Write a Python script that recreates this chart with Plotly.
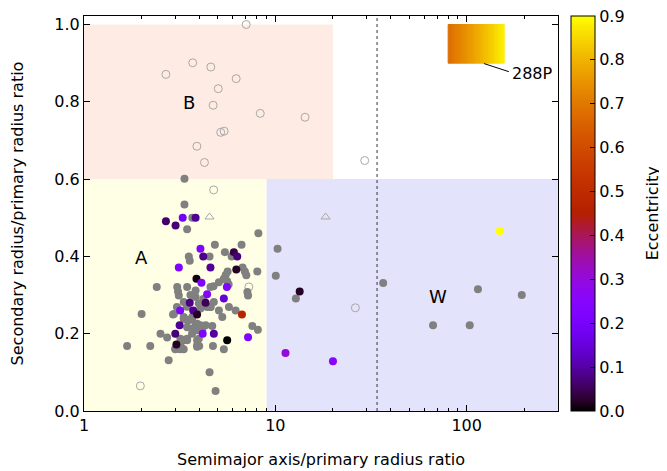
import numpy as np
import plotly.graph_objects as go

# ---------------- data ----------------
# filled grey: systems without eccentricity
grey_x = [3.35, 3.35, 3.46, 3.68, 8.15, 4.83, 6.66, 5.45, 3.53, 3.57, 4.53, 5.91,
          5.63, 5.5, 6.74, 6.93, 7.05, 8.05, 5.07, 5.38, 5.6, 5.7,
          2.40, 3.07, 3.10, 3.13, 3.46, 4.58, 4.75, 3.83, 7.14, 7.2,
          2.0, 1.68, 2.22, 2.51, 2.72, 2.77, 4.53, 4.87, 5.38, 4.72, 4.0,
          5.07, 5.72, 6.2, 5.28, 7.58, 8.1, 2.95, 3.06, 3.0, 3.19, 3.32,
          4.59, 3.32, 2.92,
          3.32, 3.53, 3.67, 3.9, 3.46, 3.67, 3.9, 3.67, 3.46, 3.32, 3.19, 3.9,
          3.13, 3.26, 3.0, 3.9, 4.06,
          3.83, 3.98, 4.15, 4.58, 4.77, 4.06, 4.4, 3.83, 4.06, 4.32, 4.68,
          3.98, 4.15, 3.9, 3.19, 3.32, 3.46, 3.68, 3.46, 3.6, 4.2, 3.45,
          10.27, 10.05, 12.8, 36.6, 66.7, 103.7, 114.5, 194.0]
grey_y = [0.601, 0.534, 0.470, 0.500, 0.460, 0.430, 0.430, 0.411, 0.400, 0.389, 0.400, 0.400,
          0.361, 0.352, 0.371, 0.361, 0.351, 0.361, 0.333, 0.342, 0.336, 0.327,
          0.321, 0.321, 0.309, 0.299, 0.321, 0.321, 0.323, 0.312, 0.308, 0.299,
          0.251, 0.168, 0.168, 0.200, 0.190, 0.131, 0.100, 0.052, 0.160, 0.168, 0.168,
          0.260, 0.269, 0.260, 0.243, 0.220, 0.210, 0.251, 0.269, 0.160, 0.160, 0.160,
          0.269, 0.282, 0.250,
          0.239, 0.235, 0.239, 0.226, 0.217, 0.213, 0.209, 0.200, 0.187, 0.183, 0.187, 0.183,
          0.161, 0.161, 0.161, 0.166, 0.213,
          0.295, 0.278, 0.278, 0.269, 0.282, 0.265, 0.269, 0.226, 0.222, 0.222, 0.220,
          0.187, 0.209, 0.170, 0.170, 0.243, 0.235, 0.243, 0.183, 0.300, 0.290, 0.270,
          0.420, 0.350, 0.291, 0.331, 0.222, 0.222, 0.315, 0.300]

# filled coloured: systems with known eccentricity
ecc_x = [2.68, 3.01, 3.28, 3.83, 4.06, 4.2, 6.07, 6.32, 3.13, 4.58, 6.25, 3.87, 4.11,
         5.58, 4.4, 5.38, 3.57, 4.32, 3.18, 3.72, 3.9, 6.69, 3.16, 3.0, 4.17, 4.77,
         5.6, 7.2, 3.04, 13.4, 11.3, 20.0, 149.0]
ecc_y = [0.491, 0.480, 0.500, 0.500, 0.420, 0.400, 0.411, 0.400, 0.371, 0.371, 0.366, 0.342, 0.332,
         0.321, 0.302, 0.291, 0.280, 0.280, 0.260, 0.260, 0.250, 0.250, 0.222, 0.200, 0.200, 0.200,
         0.183, 0.191, 0.172, 0.309, 0.150, 0.129, 0.466]
ecc_e = [0.06, 0.07, 0.18, 0.09, 0.22, 0.08, 0.04, 0.07, 0.22, 0.09, 0.02, 0.01, 0.22,
         0.22, 0.24, 0.14, 0.08, 0.05, 0.22, 0.09, 0.02, 0.47, 0.09, 0.07, 0.24, 0.10,
         0.00, 0.23, 0.02, 0.02, 0.30, 0.25, 0.90]

# open circles
open_x = [7.04, 3.7, 4.6, 2.68, 6.24, 5.03, 4.73, 8.34, 14.3, 5.18, 5.4, 3.89, 4.26,
          4.76, 1.97, 7.27, 26.2, 29.3]
open_y = [1.0, 0.901, 0.89, 0.871, 0.86, 0.834, 0.791, 0.77, 0.76, 0.721, 0.724, 0.685, 0.643,
          0.572, 0.065, 0.321, 0.267, 0.648]

# open triangles
tri_x = [4.53, 18.3]
tri_y = [0.502, 0.502]

# regions (x range, y range)
region_names = ["A", "B", "W"]
region_x0 = [1, 1, 9]
region_x1 = [9, 20, 300]
region_y0 = [0.0, 0.6, 0.0]
region_y1 = [0.6, 1.0, 0.6]
region_colors = ["#ffffe6", "#feebe4", "#e3e3fb"]
label_x = [2.0, 3.52, 70.8]
label_y = [0.397, 0.797, 0.296]

hill_x = 34.0

# 288P range
p288_x = [80.0, 157.0]
p288_y = [0.90, 1.0]
p288_e = [0.68, 0.88]

xticks = [1, 10, 100]
xminor = [2, 3, 4, 5, 6, 7, 8, 9, 20, 30, 40, 50, 60, 70, 80, 90, 200, 300]
yticks = [0.0, 0.2, 0.4, 0.6, 0.8, 1.0]
cticks = [0.0, 0.1, 0.2, 0.3, 0.4, 0.5, 0.6, 0.7, 0.8, 0.9]

# ---------------- colour scale (gnuplot rgbformulae 7,5,15) ----------------
def gp(t):
    r = np.sqrt(t)
    g = t ** 3
    b = max(0.0, np.sin(2 * np.pi * t))
    return "rgb(%d,%d,%d)" % (round(255 * r), round(255 * g), round(255 * b))

stops = np.linspace(0, 1, 41)
cscale = [[float(s), gp(s)] for s in stops]

FONT = "DejaVu Sans, Liberation Sans, Arial, sans-serif"
FS = 16
CMAX = 0.9

fig = go.Figure()

shapes = []
for x0, x1, y0, y1, c in zip(region_x0, region_x1, region_y0, region_y1, region_colors):
    shapes.append(dict(type="rect", xref="x", yref="y", x0=x0, x1=x1, y0=y0, y1=y1,
                       fillcolor=c, line=dict(width=0), layer="below"))
shapes.append(dict(type="line", xref="x", yref="paper", x0=hill_x, x1=hill_x, y0=0, y1=1,
                   line=dict(color="#333333", width=1, dash="3px,3px")))

# 288P gradient box
nseg = 40
lx = np.linspace(np.log10(p288_x[0]), np.log10(p288_x[1]), nseg + 1)
ev = np.linspace(p288_e[0], p288_e[1], nseg)
for i in range(nseg):
    col = gp(ev[i] / CMAX)
    shapes.append(dict(type="rect", xref="x", yref="y", x0=10 ** lx[i], x1=10 ** lx[i + 1],
                       y0=p288_y[0], y1=p288_y[1], fillcolor=col, line=dict(width=1, color=col)))
# leader line
shapes.append(dict(type="line", xref="x", yref="y", x0=123, x1=166, y0=0.899, y1=0.878,
                   line=dict(color="black", width=1)))

fig.add_trace(go.Scatter(x=open_x, y=open_y, mode="markers",
                         marker=dict(symbol="circle-open", size=8, color="#a8a8a8", line=dict(width=1)),
                         showlegend=False, hoverinfo="skip"))
fig.add_trace(go.Scatter(x=tri_x, y=tri_y, mode="markers",
                         marker=dict(symbol="triangle-up-open", size=8, color="#a8a8a8", line=dict(width=1)),
                         showlegend=False, hoverinfo="skip"))
fig.add_trace(go.Scatter(x=grey_x, y=grey_y, mode="markers",
                         marker=dict(symbol="circle", size=8, color="#808080"),
                         showlegend=False))
fig.add_trace(go.Scatter(x=ecc_x, y=ecc_y, mode="markers",
                         marker=dict(symbol="circle", size=8, color=ecc_e, coloraxis="coloraxis"),
                         showlegend=False))

annotations = []
for n, x, y in zip(region_names, label_x, label_y):
    annotations.append(dict(x=np.log10(x), y=y, xref="x", yref="y", text=n, showarrow=False,
                            font=dict(family=FONT, size=18, color="black")))
annotations.append(dict(x=np.log10(168), y=0.873, xref="x", yref="y", text="288P", showarrow=False,
                        xanchor="left", font=dict(family=FONT, size=FS, color="black")))
annotations.append(dict(x=1.2, y=0.5, xref="paper", yref="paper", text="Eccentricity",
                        showarrow=False, textangle=-90, xanchor="center", yanchor="middle",
                        font=dict(family=FONT, size=FS, color="black")))

axis_common = dict(showline=True, linecolor="black", linewidth=1, mirror="allticks",
                   ticks="inside", ticklen=6, tickcolor="black", showgrid=False, zeroline=False,
                   automargin=False,
                   tickfont=dict(family=FONT, size=FS, color="black"))

fig.update_layout(
    width=667, height=471,
    margin=dict(l=76, r=117, t=8, b=68, autoexpand=False),
    plot_bgcolor="white", paper_bgcolor="white",
    shapes=shapes, annotations=annotations,
    xaxis=dict(type="log", range=[0, np.log10(300)], tickvals=xticks, ticktext=["1", "10", "100"],
               minor=dict(tickvals=xminor, ticks="inside", ticklen=3, tickcolor="black"),
               title=dict(text="Semimajor axis/primary radius ratio", font=dict(family=FONT, size=FS, color="black"),
                          standoff=19),
               **axis_common),
    yaxis=dict(range=[0, 1.022], tickvals=yticks, tickformat=".1f",
               title=dict(text="Secondary radius/primary radius ratio", font=dict(family=FONT, size=FS, color="black"),
                          standoff=30),
               **axis_common),
    coloraxis=dict(colorscale=cscale, cmin=0, cmax=CMAX + 1e-6,
                   colorbar=dict(x=1.027, xanchor="left", xpad=0, ypad=0, y=0.5, yanchor="middle",
                                 len=1, lenmode="fraction", thickness=24,
                                 outlinewidth=1, outlinecolor="black",
                                 ticks="inside", ticklen=5, tickcolor="black",
                                 tickvals=cticks, tickformat=".1f", ticklabeloverflow="allow",
                                 tickfont=dict(family=FONT, size=FS, color="black"))),
    font=dict(family=FONT, size=FS, color="black"),
)

fig.write_html("out.html")
